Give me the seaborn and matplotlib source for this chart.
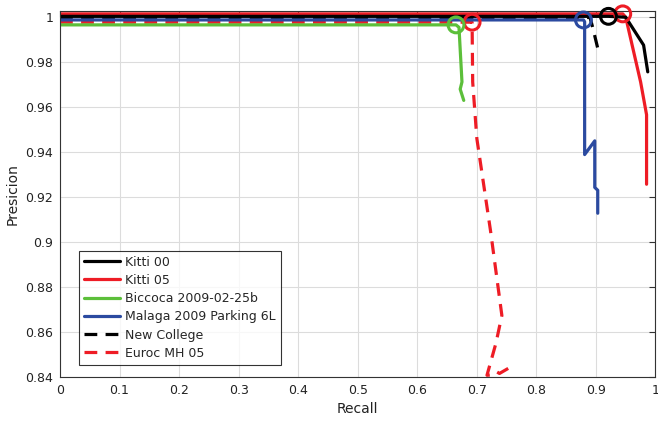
import matplotlib
matplotlib.use("Agg")
import matplotlib.pyplot as plt
import seaborn as sns
import pandas as pd
from matplotlib.lines import Line2D

# ---- data ----
kitti00_recall = [0.0, 0.921, 0.950, 0.980, 0.987]
kitti00_prec = [1.0004, 1.0004, 1.0000, 0.9876, 0.9757]

kitti05_recall = [0.0, 0.945, 0.950, 0.975, 0.985, 0.985]
kitti05_prec = [1.0015, 1.0015, 1.0000, 0.9712, 0.9566, 0.9257]

biccoca_recall = [0.0, 0.665, 0.670, 0.675, 0.672, 0.678]
biccoca_prec = [0.9966, 0.9966, 0.9955, 0.9712, 0.9680, 0.9630]

malaga_recall = [0.0, 0.879, 0.881, 0.881, 0.898, 0.898, 0.903, 0.903]
malaga_prec = [0.9988, 0.9988, 0.9980, 0.9389, 0.9450, 0.9243, 0.9230, 0.9128]

newcollege_recall = [0.0, 0.890, 0.895, 0.905]
newcollege_prec = [0.9999, 0.9999, 0.9950, 0.9840]

euroc_recall = [0.0, 0.692, 0.693, 0.700, 0.723, 0.742, 0.732, 0.717, 0.722, 0.733, 0.738, 0.762]
euroc_prec = [0.9978, 0.9978, 0.9712, 0.9460, 0.9049, 0.8673, 0.8549, 0.8407, 0.8408, 0.8423, 0.8415, 0.8452]

series = [
    ("Kitti 00", kitti00_recall, kitti00_prec, "#000000", "-", True),
    ("Kitti 05", kitti05_recall, kitti05_prec, "#ee1c25", "-", True),
    ("Biccoca 2009-02-25b", biccoca_recall, biccoca_prec, "#5cbf3a", "-", True),
    ("Malaga 2009 Parking 6L", malaga_recall, malaga_prec, "#2b4aa0", "-", True),
    ("New College", newcollege_recall, newcollege_prec, "#000000", "--", False),
    ("Euroc MH 05", euroc_recall, euroc_prec, "#ee1c25", "--", True),
]

x_ticks = [0, 0.1, 0.2, 0.3, 0.4, 0.5, 0.6, 0.7, 0.8, 0.9, 1]
x_tick_labels = ["0", "0.1", "0.2", "0.3", "0.4", "0.5", "0.6", "0.7", "0.8", "0.9", "1"]
y_ticks = [0.84, 0.86, 0.88, 0.90, 0.92, 0.94, 0.96, 0.98, 1.0]
y_tick_labels = ["0.84", "0.86", "0.88", "0.9", "0.92", "0.94", "0.96", "0.98", "1"]

sns.set_style("white")
plt.rcParams["font.family"] = ["DejaVu Sans"]

fig = plt.figure(figsize=(6.58, 4.22), dpi=100)
ax = fig.add_axes([0.0912, 0.107, 0.905, 0.866])

DASH = (4, 2.6)

# draw in reverse so the first series lies on top, as in the reference
for name, rx, py, col, ls, circ in series[::-1]:
    df = pd.DataFrame({"Recall": rx, "Precision": py})
    sns.lineplot(data=df, x="Recall", y="Precision", ax=ax, sort=False,
                 estimator=None, color=col, linewidth=2.3, legend=False)
    if ls == "--":
        ax.lines[-1].set_dashes(DASH)
    if circ:
        mdf = df.iloc[[1]]
        sns.scatterplot(data=mdf, x="Recall", y="Precision", ax=ax, s=130,
                        facecolor="none", edgecolor=col, linewidth=2.2,
                        legend=False, zorder=5, clip_on=False)

leg_handles = []
for _, _, _, c, l, _ in series:
    h = Line2D([0], [0], color=c, linewidth=2.3)
    if l == "--":
        h.set_dashes(DASH)
    leg_handles.append(h)
leg_labels = [s[0] for s in series]
leg = ax.legend(leg_handles, leg_labels, loc="lower left",
                bbox_to_anchor=(0.032, 0.033), borderaxespad=0,
                fontsize=9, frameon=True, fancybox=False, handlelength=2.9,
                handletextpad=0.4, labelspacing=0.42, borderpad=0.4)
leg.get_frame().set_edgecolor("black")
leg.get_frame().set_linewidth(0.8)

ax.set_xlim(0, 1)
ax.set_ylim(0.84, 1.0026)
ax.set_xticks(x_ticks)
ax.set_xticklabels(x_tick_labels)
ax.set_yticks(y_ticks)
ax.set_yticklabels(y_tick_labels)
ax.grid(True, color="#dcdcdc", linewidth=0.8)
ax.set_axisbelow(True)
ax.tick_params(direction="in", top=True, right=True, labelsize=9, length=4,
               color="#333333", labelcolor="#222222", pad=5)
for sp in ax.spines.values():
    sp.set_visible(True)
    sp.set_color("#333333")
    sp.set_linewidth(0.8)
ax.set_xlabel("Recall", fontsize=10, color="#222222")
ax.set_ylabel("Presicion", fontsize=10, color="#222222")

fig.savefig("out.png", dpi=100)
